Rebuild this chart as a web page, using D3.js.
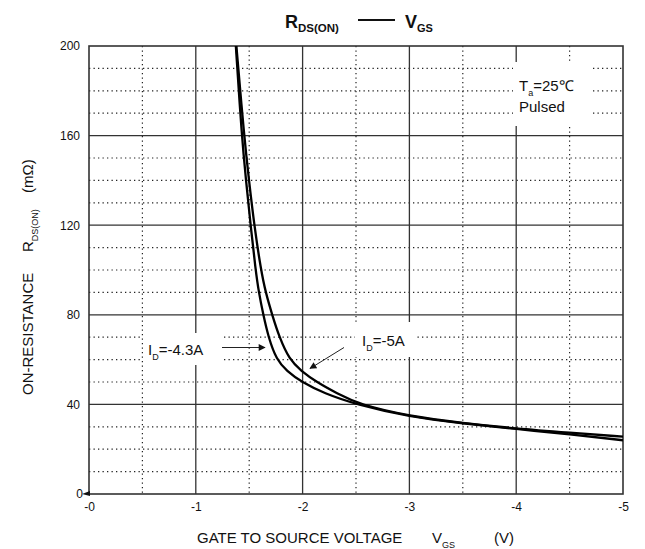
<!DOCTYPE html>
<html>
<head>
<meta charset="utf-8">
<script src="https://cdn.jsdelivr.net/npm/d3@7"></script>
<style>
  body { margin: 0; background: #fff; }
  svg text { font-family: "Liberation Sans", Arial, sans-serif; fill: #111; }
</style>
</head>
<body>
<div id="canvas"></div>
<script>
// DATA (VGS shown as magnitude, labels carry the minus sign)
const xTicks = [0, 1, 2, 3, 4, 5];
const xTickLabels = ["-0", "-1", "-2", "-3", "-4", "-5"];
const yTicks = [0, 40, 80, 120, 160, 200];
const yTickLabels = ["0", "40", "80", "120", "160", "200"];

const vgs_43A = [1.375, 1.43, 1.47, 1.513, 1.56, 1.59, 1.632, 1.68, 1.755, 1.85, 1.99, 2.2, 2.50, 3.0, 3.5, 4.0, 4.5, 5.0];
const rds_43A = [200, 160, 140, 120, 100, 90, 80, 70, 60, 55, 50, 45, 40, 34.5, 31.5, 29, 26.7, 24];

const vgs_5A = [1.38, 1.452, 1.498, 1.547, 1.61, 1.654, 1.715, 1.782, 1.876, 1.985, 2.13, 2.32, 2.53, 3.0, 3.5, 4.0, 4.5, 5.0];
const rds_5A = [200, 160, 140, 120, 100, 90, 80, 70, 60, 55, 50, 45, 40, 34.8, 31.7, 29.2, 27.4, 25.6];

// DIMENSIONS
const width = 645;
const height = 549;
const margin = { top: 46, right: 22, bottom: 55, left: 89 };
const plot_width = width - margin.left - margin.right;
const plot_height = height - margin.top - margin.bottom;

const svg = d3.select("#canvas").append("svg")
  .attr("width", width).attr("height", height);
const defs = svg.append("defs");

const plot = svg.append("g")
  .attr("transform", `translate(${margin.left}, ${margin.top})`);

// SCALES
const xScale = d3.scaleLinear().domain([0, 5]).range([0, plot_width]);
const yScale = d3.scaleLinear().domain([0, 200]).range([plot_height, 0]);

// MINOR GRID (dotted)
const xMinor = d3.range(0.5, 5, 1);
const yMinor = d3.range(10, 200, 10).filter(d => d % 40 !== 0);

plot.append("g").selectAll("line").data(xMinor).join("line")
  .attr("x1", d => xScale(d)).attr("x2", d => xScale(d))
  .attr("y1", 0).attr("y2", plot_height)
  .attr("stroke", "#222").attr("stroke-width", 1.2)
  .attr("stroke-dasharray", "1.3,3.2");

plot.append("g").selectAll("line").data(yMinor).join("line")
  .attr("x1", 0).attr("x2", plot_width)
  .attr("y1", d => yScale(d)).attr("y2", d => yScale(d))
  .attr("stroke", "#222").attr("stroke-width", 1.2)
  .attr("stroke-dasharray", "1.3,3.2");

// MAJOR GRID
plot.append("g").selectAll("line").data(xTicks.slice(1, -1)).join("line")
  .attr("x1", d => xScale(d)).attr("x2", d => xScale(d))
  .attr("y1", 0).attr("y2", plot_height)
  .attr("stroke", "#333").attr("stroke-width", 1.3);

plot.append("g").selectAll("line").data(yTicks.slice(1, -1)).join("line")
  .attr("x1", 0).attr("x2", plot_width)
  .attr("y1", d => yScale(d)).attr("y2", d => yScale(d))
  .attr("stroke", "#333").attr("stroke-width", 1.3);

// white boxes behind annotations
const boxes = [
  [513, 62, 79, 64],
  [143, 333, 80, 32],
  [355, 322, 60, 35]
];
svg.append("g").selectAll("rect").data(boxes).join("rect")
  .attr("x", d => d[0]).attr("y", d => d[1])
  .attr("width", d => d[2]).attr("height", d => d[3])
  .attr("fill", "#fff");

// FRAME
plot.append("rect")
  .attr("width", plot_width).attr("height", plot_height)
  .attr("fill", "none").attr("stroke", "#333").attr("stroke-width", 1.6);

// AXES (labels only)
const xAx = d3.axisBottom(xScale).tickValues(xTicks)
  .tickFormat((d, i) => xTickLabels[i]).tickSize(0).tickPadding(8);
const yAx = d3.axisLeft(yScale).tickValues(yTicks)
  .tickFormat((d, i) => yTickLabels[i]).tickSize(0).tickPadding(9);

const xAxisHolder = plot.append("g")
  .attr("transform", `translate(0, ${plot_height})`).call(xAx);
const yAxisHolder = plot.append("g").call(yAx);
[xAxisHolder, yAxisHolder].forEach(g => {
  g.select(".domain").remove();
  g.selectAll("text").style("font-size", "12px")
    .style("font-family", "'Liberation Sans', Arial, sans-serif").attr("fill", "#111");
});
yAxisHolder.selectAll(".tick").filter(d => d === 0).select("text").attr("x", -6);

// small marker at origin
plot.append("path")
  .attr("d", `M-7,${plot_height} L1,${plot_height - 3} L1,${plot_height + 2} Z`)
  .attr("fill", "#111");

// CURVES
const line = d3.line()
  .x(d => xScale(d[0])).y(d => yScale(d[1]))
  .curve(d3.curveBasis);

defs.append("clipPath").attr("id", "plotclip")
  .append("rect").attr("width", plot_width).attr("height", plot_height);

const curves = plot.append("g").attr("clip-path", "url(#plotclip)");
[[vgs_43A, rds_43A], [vgs_5A, rds_5A]].forEach(([xs, ys]) => {
  curves.append("path")
    .datum(xs.map((v, i) => [v, ys[i]]))
    .attr("d", line)
    .attr("fill", "none")
    .attr("stroke", "#000")
    .attr("stroke-width", 2.3);
});

// ANNOTATIONS
function subText(g, x, y, parts, size) {
  const t = g.append("text").attr("x", x).attr("y", y).style("font-size", size + "px");
  parts.forEach(p => {
    const s = t.append("tspan").text(p.t);
    if (p.sub) s.attr("dy", p.sub).style("font-size", p.size + "px");
  });
  return t;
}

// arrows
defs.append("marker").attr("id", "arr")
  .attr("viewBox", "0 0 10 10").attr("refX", 9).attr("refY", 5)
  .attr("markerWidth", 9).attr("markerHeight", 7).attr("orient", "auto")
  .attr("markerUnits", "userSpaceOnUse")
  .append("path").attr("d", "M0,0 L10,5 L0,10 Z").attr("fill", "#111");

svg.append("line").attr("x1", 222).attr("y1", 347.5).attr("x2", 265).attr("y2", 347.5)
  .attr("stroke", "#222").attr("stroke-width", 1).attr("marker-end", "url(#arr)");
svg.append("line").attr("x1", 344).attr("y1", 347.5).attr("x2", 310).attr("y2", 368.5)
  .attr("stroke", "#222").attr("stroke-width", 1).attr("marker-end", "url(#arr)");

subText(svg, 148, 355, [
  { t: "I" }, { t: "D", sub: 5, size: 9 }, { t: "=-4.3A", sub: -5, size: 15 }
], 15);
subText(svg, 362, 346, [
  { t: "I" }, { t: "D", sub: 5, size: 9 }, { t: "=-5A", sub: -5, size: 15 }
], 15);

subText(svg, 519, 91, [
  { t: "T" }, { t: "a", sub: 5, size: 9 }, { t: "=25\u2103", sub: -5, size: 15 }
], 15);
svg.append("text").attr("x", 519).attr("y", 112).style("font-size", "15px").text("Pulsed");

// TITLE
const title = svg.append("text").attr("x", 285).attr("y", 28)
  .style("font-size", "18px").style("font-weight", "bold");
title.append("tspan").text("R");
title.append("tspan").text("DS(ON)").attr("dy", 4).style("font-size", "11.5px");
title.append("tspan").text("V").attr("x", 405).attr("dy", -4);
title.append("tspan").text("GS").attr("dy", 4).style("font-size", "11px");
svg.append("line").attr("x1", 358).attr("x2", 395).attr("y1", 20).attr("y2", 20)
  .attr("stroke", "#111").attr("stroke-width", 2);

// AXIS LABELS
const xl = svg.append("text").attr("x", 197).attr("y", 543).style("font-size", "15px");
xl.append("tspan").text("GATE TO SOURCE VOLTAGE");
xl.append("tspan").attr("x", 432).text("V");
xl.append("tspan").attr("dy", 5).style("font-size", "9px").text("GS");
xl.append("tspan").attr("x", 494).attr("dy", -5).text("(V)");

const yl = svg.append("text")
  .attr("transform", "translate(33,395) rotate(-90)")
  .style("font-size", "15px");
yl.append("tspan").attr("x", 0).text("ON-RESISTANCE");
yl.append("tspan").attr("x", 143).text("R");
yl.append("tspan").attr("dy", 5).style("font-size", "9px").text("DS(ON)");
yl.append("tspan").attr("x", 202).attr("dy", -5).text("(m\u03A9)");
</script>
</body>
</html>
